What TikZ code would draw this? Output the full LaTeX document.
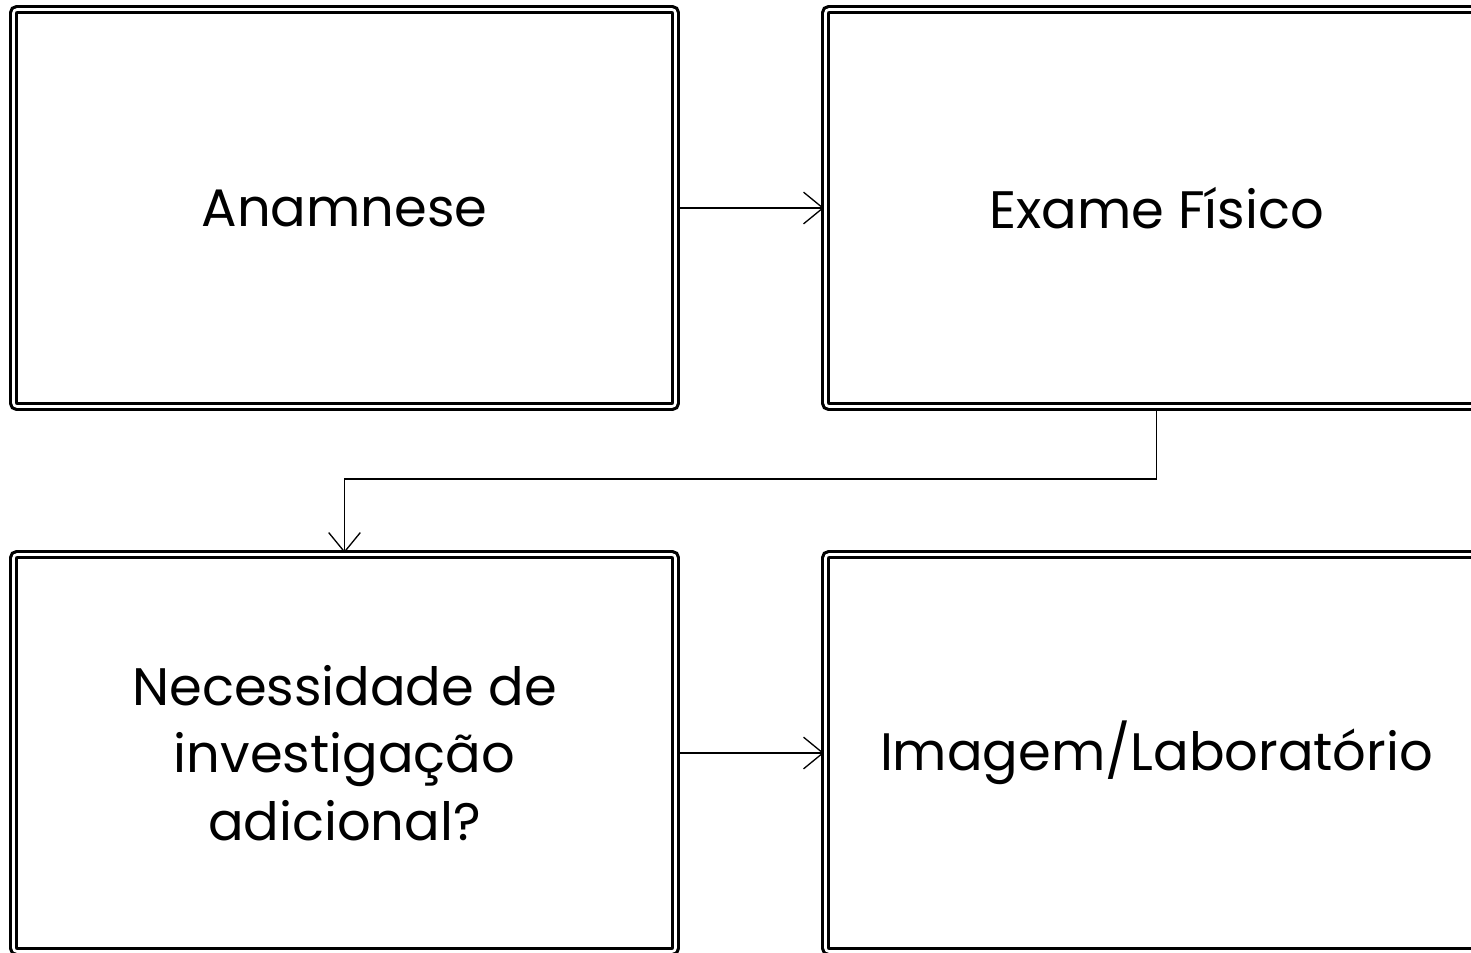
\documentclass[tikz,border=0pt]{standalone}
\usepackage{fontspec}
\setmainfont{Poppins}
\usetikzlibrary{arrows.meta}

\begin{document}
\begin{tikzpicture}

\useasboundingbox (0,0) rectangle (29.42,-19.04);

%stages
\tikzstyle{stagebox} = [draw=black, rectangle, double, line width=1.8pt, double distance=1.5pt, rounded corners=2pt, minimum width=13.24cm, minimum height=7.94cm, text centered, align=center, font=\fontsize{30}{38.6}\selectfont]
\tikzstyle{flow} = [draw=black, line width=0.75pt, -{Straight Barb[length=11pt,width=18pt]}]

\node (anamnese)     [stagebox] at (6.89,-4.16)                    {Anamnese};
\node (exame)        [stagebox, right of=anamnese, xshift=15.24cm] {Exame Físico};
\node (necessidade)  [stagebox, below of=anamnese, yshift=-9.9cm]  {Necessidade de\\investigação\\adicional?};
\node (imagem)       [stagebox, right of=necessidade, xshift=15.24cm] {Imagem/Laboratório};

\draw[flow] (anamnese) -- (exame);
\draw[flow] (exame.south) -- ++(0,-1.42) -| (necessidade.north);
\draw[flow] (necessidade) -- (imagem);

\end{tikzpicture}
\end{document}
